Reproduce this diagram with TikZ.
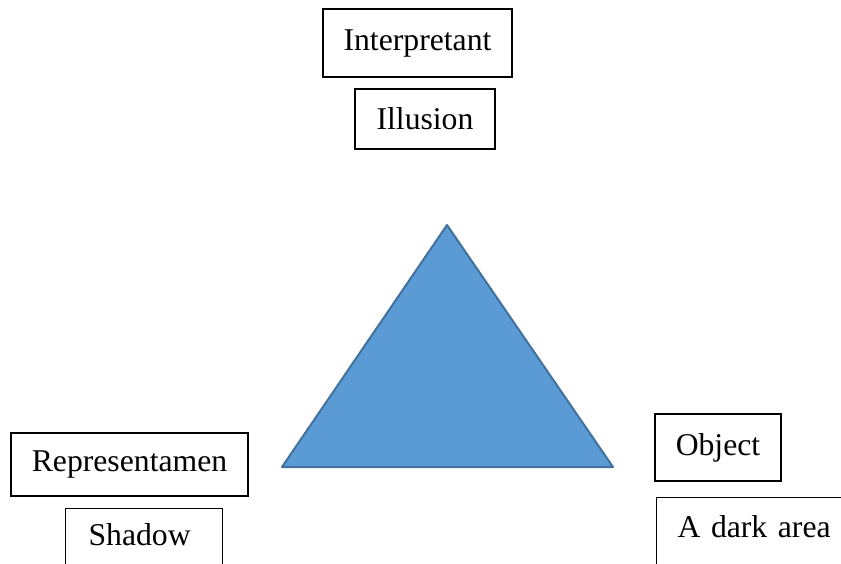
\documentclass[tikz,border=0pt]{standalone}
\usepackage{fontspec}
\setmainfont{Liberation Serif}
\definecolor{trifill}{HTML}{5B9BD5}
\definecolor{triline}{HTML}{41719C}
\begin{document}
\begin{tikzpicture}[x=1pt, y=-1pt,
        box/.style={draw, line width=1.1pt, inner sep=0pt, font=\fontsize{31.7}{38}\selectfont},
        cutbox/.style={box, anchor=north west, align=left, text height=21.7pt}]
    \useasboundingbox (0,0) rectangle (841,563);
    \clip (0,0) rectangle (841,563);
    % the triangle
    \filldraw[fill=trifill, draw=triline, line width=2pt, line join=round]
        (447,225) -- (613,467) -- (282,467) -- cycle;
    % labels at the corners
    \node[box, minimum width=189pt, minimum height=68pt] (interp) at (417.5,43) {Interpretant};
    \node[box, minimum width=140pt, minimum height=60pt] (illusion) at (425,119) {Illusion};
    \node[box, minimum width=237pt, minimum height=63pt] (repr) at (129.5,464.5) {Representamen};
    \node[box, minimum width=126pt, minimum height=67pt] (object) at (718,447.5) {Object};
    \node[cutbox, text width=111pt, inner xsep=23pt, minimum height=72pt, text depth=19.7pt] (shadow) at (65,508) {Shadow};
    \node[cutbox, text width=188pt, inner xsep=21pt, minimum height=83pt, text depth=24.7pt] (dark) at (656,497) {A dark area};
\end{tikzpicture}
\end{document}
